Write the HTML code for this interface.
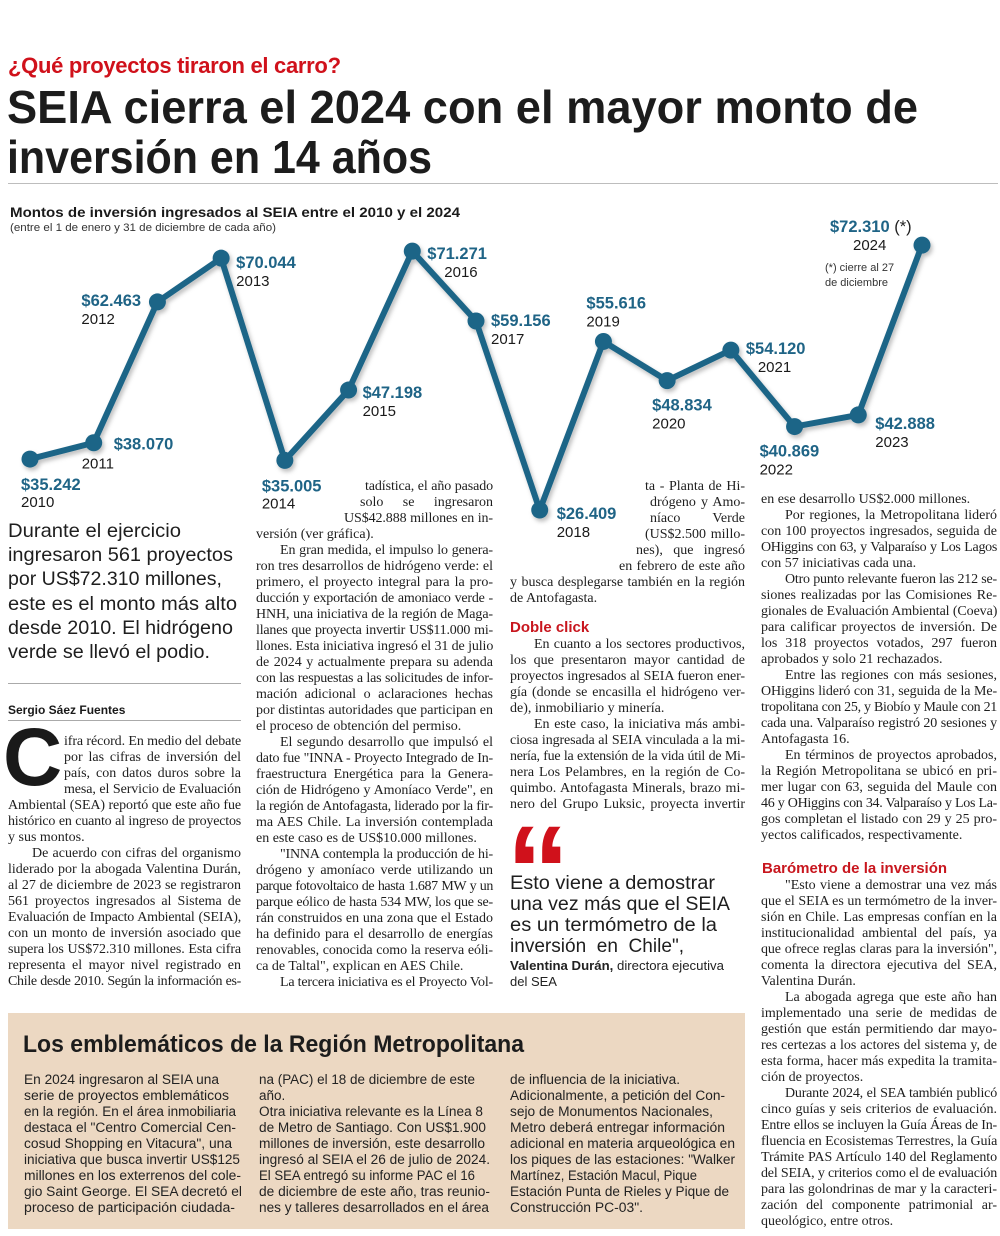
<!DOCTYPE html>
<html lang="es">
<head>
<meta charset="utf-8">
<style>
html,body{margin:0;padding:0;background:#fff;}
body{width:1000px;height:1236px;position:relative;overflow:hidden;font-family:"Liberation Sans",Arial,sans-serif;color:#1a1a1a;}
.abs{position:absolute;}
.col{position:absolute;font-family:"Liberation Serif","Times New Roman",serif;font-size:14px;line-height:16px;color:#1e1e1e;}
.ln{white-space:nowrap;text-align:justify;text-align-last:justify;height:16px;overflow:visible;}
.ls{white-space:nowrap;text-align:left;height:16px;}
.in{text-indent:24px;}
.sub{font-family:"Liberation Sans",Arial,sans-serif;font-weight:bold;color:#c8161e;font-size:15px;}
.box{position:absolute;left:8px;top:1013px;width:737px;height:216px;background:#ecd8c2;}
.bcol{position:absolute;font-family:"Liberation Sans",Arial,sans-serif;font-size:13.5px;line-height:16px;color:#222;}
.bcol div{white-space:nowrap;height:16px;}
.fit{display:inline-block;white-space:nowrap;transform-origin:0 50%;}
</style>
</head>
<body>

<div class="abs" style="left:8px;top:52px;font-size:22px;font-weight:bold;color:#d0111b;line-height:28px;letter-spacing:-0.3px;">¿Qué proyectos tiraron el carro?</div>
<div class="abs" style="left:7px;top:82px;font-size:46px;font-weight:bold;line-height:50px;color:#1c1c1c;">
  <div><span class="fit" data-w="911">SEIA cierra el 2024 con el mayor monto de</span></div>
  <div><span class="fit" data-w="425">inversión en 14 años</span></div>
</div>
<div class="abs" style="left:8px;top:183px;width:990px;height:1px;background:#bdbdbd;"></div>

<div class="abs" style="left:10px;top:203px;font-size:14px;font-weight:bold;line-height:18px;"><span class="fit" data-w="450">Montos de inversión ingresados al SEIA entre el 2010 y el 2024</span></div>
<div class="abs" style="left:10px;top:221px;font-size:11px;line-height:14px;color:#333;"><span class="fit" data-w="266">(entre el 1 de enero y 31 de diciembre de cada año)</span></div>

<svg id="chart" class="abs" style="left:0;top:0;" width="1000" height="560" viewBox="0 0 1000 560">
  <defs>
    <filter id="sh" x="-10%" y="-10%" width="120%" height="120%">
      <feDropShadow dx="2" dy="3" stdDeviation="2" flood-color="#000" flood-opacity="0.25"/>
    </filter>
  </defs>
  <g id="lineLayer" filter="url(#sh)"></g>
  <g id="labelLayer"></g>
  <text x="825" y="271" font-size="11" fill="#333" font-family="Liberation Sans, sans-serif">(*) cierre al 27</text>
  <text x="825" y="286" font-size="11" fill="#333" font-family="Liberation Sans, sans-serif">de diciembre</text>
</svg>

<!-- Column 1 -->
<div class="abs" style="left:8px;top:519px;font-size:19.5px;line-height:24.2px;color:#1e1e1e;">
  <div><span class="fit" data-w="173">Durante el ejercicio</span></div>
  <div><span class="fit" data-w="225">ingresaron 561 proyectos</span></div>
  <div><span class="fit" data-w="214">por US$72.310 millones,</span></div>
  <div><span class="fit" data-w="229">este es el monto más alto</span></div>
  <div><span class="fit" data-w="225">desde 2010. El hidrógeno</span></div>
  <div><span class="fit" data-w="202">verde se llevó el podio.</span></div>
</div>
<div class="abs" style="left:8px;top:683px;width:233px;height:1px;background:#aaa;"></div>
<div class="abs" style="left:8px;top:702px;font-size:12px;font-weight:bold;line-height:16px;">Sergio Sáez Fuentes</div>
<div class="abs" style="left:8px;top:720px;width:233px;height:1px;background:#aaa;"></div>
<div class="abs" style="left:3px;top:717px;font-size:82px;font-weight:bold;line-height:82px;color:#1a1a1a;">C</div>

<div class="col" style="left:8px;top:734px;width:233px;">
  <div class="ln" style="margin-left:56px">ifra récord. En medio del debate</div>
  <div class="ln" style="margin-left:56px">por las cifras de inversión del</div>
  <div class="ln" style="margin-left:56px">país, con datos duros sobre la</div>
  <div class="ln" style="margin-left:56px">mesa, el Servicio de Evaluación</div>
  <div class="ln">Ambiental (SEA) reportó que este año fue</div>
  <div class="ln">histórico en cuanto al ingreso de proyectos</div>
  <div class="ls">y sus montos.</div>
  <div class="ln in">De acuerdo con cifras del organismo</div>
  <div class="ln">liderado por la abogada Valentina Durán,</div>
  <div class="ln">al 27 de diciembre de 2023 se registraron</div>
  <div class="ln">561 proyectos ingresados al Sistema de</div>
  <div class="ln">Evaluación de Impacto Ambiental (SEIA),</div>
  <div class="ln">con un monto de inversión asociado que</div>
  <div class="ln">supera los US$72.310 millones. Esta cifra</div>
  <div class="ln">representa el mayor nivel registrado en</div>
  <div class="ln">Chile desde 2010. Según la información es-</div>
</div>

<!-- Column 2 -->
<div class="col" style="left:256px;top:479px;width:237px;">
  <div class="ln" style="margin-left:109px">tadística, el año pasado</div>
  <div class="ln" style="margin-left:104px">solo se ingresaron</div>
  <div class="ln" style="margin-left:88px">US$42.888 millones en in-</div>
  <div class="ls">versión (ver gráfica).</div>
  <div class="ln in">En gran medida, el impulso lo genera-</div>
  <div class="ln">ron tres desarrollos de hidrógeno verde: el</div>
  <div class="ln">primero, el proyecto integral para la pro-</div>
  <div class="ln">ducción y exportación de amoniaco verde -</div>
  <div class="ln">HNH, una iniciativa de la región de Maga-</div>
  <div class="ln">llanes que proyecta invertir US$11.000 mi-</div>
  <div class="ln">llones. Esta iniciativa ingresó el 31 de julio</div>
  <div class="ln">de 2024 y actualmente prepara su adenda</div>
  <div class="ln">con las respuestas a las solicitudes de infor-</div>
  <div class="ln">mación adicional o aclaraciones hechas</div>
  <div class="ln">por distintas autoridades que participan en</div>
  <div class="ls">el proceso de obtención del permiso.</div>
  <div class="ln in">El segundo desarrollo que impulsó el</div>
  <div class="ln">dato fue "INNA - Proyecto Integrado de In-</div>
  <div class="ln">fraestructura Energética para la Genera-</div>
  <div class="ln">ción de Hidrógeno y Amoníaco Verde", en</div>
  <div class="ln">la región de Antofagasta, liderado por la fir-</div>
  <div class="ln">ma AES Chile. La inversión contemplada</div>
  <div class="ls">en este caso es de US$10.000 millones.</div>
  <div class="ln in">"INNA contempla la producción de hi-</div>
  <div class="ln">drógeno y amoníaco verde utilizando un</div>
  <div class="ln">parque fotovoltaico de hasta 1.687 MW y un</div>
  <div class="ln">parque eólico de hasta 534 MW, los que se-</div>
  <div class="ln">rán construidos en una zona que el Estado</div>
  <div class="ln">ha definido para el desarrollo de energías</div>
  <div class="ln">renovables, conocida como la reserva eóli-</div>
  <div class="ls">ca de Taltal", explican en AES Chile.</div>
  <div class="ln in">La tercera iniciativa es el Proyecto Vol-</div>
</div>

<!-- Column 3 -->
<div class="col" style="left:510px;top:479px;width:235px;">
  <div class="ln" style="margin-left:135px">ta - Planta de Hi-</div>
  <div class="ln" style="margin-left:140px">drógeno y Amo-</div>
  <div class="ln" style="margin-left:140px">níaco Verde</div>
  <div class="ln" style="margin-left:135px">(US$2.500 millo-</div>
  <div class="ln" style="margin-left:126px">nes), que ingresó</div>
  <div class="ln" style="margin-left:109px">en febrero de este año</div>
  <div class="ln">y busca desplegarse también en la región</div>
  <div class="ls">de Antofagasta.</div>
</div>
<div class="abs sub" style="left:510px;top:619px;line-height:18px;">Doble click</div>
<div class="col" style="left:510px;top:637px;width:235px;">
  <div class="ln in">En cuanto a los sectores productivos,</div>
  <div class="ln">los que presentaron mayor cantidad de</div>
  <div class="ln">proyectos ingresados al SEIA fueron ener-</div>
  <div class="ln">gía (donde se encasilla el hidrógeno ver-</div>
  <div class="ls">de), inmobiliario y minería.</div>
  <div class="ln in">En este caso, la iniciativa más ambi-</div>
  <div class="ln">ciosa ingresada al SEIA vinculada a la mi-</div>
  <div class="ln">nería, fue la extensión de la vida útil de Mi-</div>
  <div class="ln">nera Los Pelambres, en la región de Co-</div>
  <div class="ln">quimbo. Antofagasta Minerals, brazo mi-</div>
  <div class="ln">nero del Grupo Luksic, proyecta invertir</div>
</div>
<div class="abs" style="left:506px;top:808px;font-size:128px;font-weight:bold;line-height:128px;color:#d0111b;">“</div>
<div class="abs" style="left:510px;top:873px;font-size:19px;line-height:21px;color:#1e1e1e;">
  <div><span class="fit" data-w="205">Esto viene a demostrar</span></div>
  <div><span class="fit" data-w="220">una vez más que el SEIA</span></div>
  <div><span class="fit" data-w="207">es un termómetro de la</span></div>
  <div><span class="fit" data-w="174">inversión&nbsp; en&nbsp; Chile",</span></div>
</div>
<div class="abs" style="left:510px;top:958px;font-size:13px;line-height:16px;color:#222;">
  <div><span class="fit" data-w="214"><b>Valentina Durán,</b> directora ejecutiva</span></div>
  <div>del SEA</div>
</div>

<!-- Column 4 -->
<div class="col" style="left:761px;top:492px;width:236px;">
  <div class="ls">en ese desarrollo US$2.000 millones.</div>
  <div class="ln in">Por regiones, la Metropolitana lideró</div>
  <div class="ln">con 100 proyectos ingresados, seguida de</div>
  <div class="ln">OHiggins con 63, y Valparaíso y Los Lagos</div>
  <div class="ls">con 57 iniciativas cada una.</div>
  <div class="ln in">Otro punto relevante fueron las 212 se-</div>
  <div class="ln">siones realizadas por las Comisiones Re-</div>
  <div class="ln">gionales de Evaluación Ambiental (Coeva)</div>
  <div class="ln">para calificar proyectos de inversión. De</div>
  <div class="ln">los 318 proyectos votados, 297 fueron</div>
  <div class="ls">aprobados y solo 21 rechazados.</div>
  <div class="ln in">Entre las regiones con más sesiones,</div>
  <div class="ln">OHiggins lideró con 31, seguida de la Me-</div>
  <div class="ln">tropolitana con 25, y Biobío y Maule con 21</div>
  <div class="ln">cada una. Valparaíso registró 20 sesiones y</div>
  <div class="ls">Antofagasta 16.</div>
  <div class="ln in">En términos de proyectos aprobados,</div>
  <div class="ln">la Región Metropolitana se ubicó en pri-</div>
  <div class="ln">mer lugar con 63, seguida del Maule con</div>
  <div class="ln">46 y OHiggins con 34. Valparaíso y Los La-</div>
  <div class="ln">gos completan el listado con 29 y 25 pro-</div>
  <div class="ls">yectos calificados, respectivamente.</div>
</div>
<div class="abs sub" style="left:762px;top:860px;line-height:18px;">Barómetro de la inversión</div>
<div class="col" style="left:761px;top:878px;width:236px;">
  <div class="ln in">"Esto viene a demostrar una vez más</div>
  <div class="ln">que el SEIA es un termómetro de la inver-</div>
  <div class="ln">sión en Chile. Las empresas confían en la</div>
  <div class="ln">institucionalidad ambiental del país, ya</div>
  <div class="ln">que ofrece reglas claras para la inversión",</div>
  <div class="ln">comenta la directora ejecutiva del SEA,</div>
  <div class="ls">Valentina Durán.</div>
  <div class="ln in">La abogada agrega que este año han</div>
  <div class="ln">implementado una serie de medidas de</div>
  <div class="ln">gestión que están permitiendo dar mayo-</div>
  <div class="ln">res certezas a los actores del sistema y, de</div>
  <div class="ln">esta forma, hacer más expedita la tramita-</div>
  <div class="ls">ción de proyectos.</div>
  <div class="ln in">Durante 2024, el SEA también publicó</div>
  <div class="ln">cinco guías y seis criterios de evaluación.</div>
  <div class="ln">Entre ellos se incluyen la Guía Áreas de In-</div>
  <div class="ln">fluencia en Ecosistemas Terrestres, la Guía</div>
  <div class="ln">Trámite PAS Artículo 140 del Reglamento</div>
  <div class="ln">del SEIA, y criterios como el de evaluación</div>
  <div class="ln">para las golondrinas de mar y la caracteri-</div>
  <div class="ln">zación del componente patrimonial ar-</div>
  <div class="ls">queológico, entre otros.</div>
</div>

<!-- Box -->
<div class="box"></div>
<div class="abs" style="left:23px;top:1030px;font-size:24px;font-weight:bold;line-height:30px;color:#1c1c1c;"><span class="fit" data-w="501">Los emblemáticos de la Región Metropolitana</span></div>
<div class="bcol" style="left:24px;top:1072px;">
  <div><span class="fit" data-w="195">En 2024 ingresaron al SEIA una</span></div>
  <div><span class="fit" data-w="205">serie de proyectos emblemáticos</span></div>
  <div><span class="fit" data-w="212">en la región. En el área inmobiliaria</span></div>
  <div><span class="fit" data-w="212">destaca el "Centro Comercial Cen-</span></div>
  <div><span class="fit" data-w="208">cosud Shopping en Vitacura", una</span></div>
  <div><span class="fit" data-w="216">iniciativa que busca invertir US$125</span></div>
  <div><span class="fit" data-w="217">millones en los exterrenos del cole-</span></div>
  <div><span class="fit" data-w="218">gio Saint George. El SEA decretó el</span></div>
  <div><span class="fit" data-w="211">proceso de participación ciudada-</span></div>
</div>
<div class="bcol" style="left:259px;top:1072px;">
  <div><span class="fit" data-w="216">na (PAC) el 18 de diciembre de este</span></div>
  <div>año.</div>
  <div><span class="fit" data-w="224">Otra iniciativa relevante es la Línea 8</span></div>
  <div><span class="fit" data-w="227">de Metro de Santiago. Con US$1.900</span></div>
  <div><span class="fit" data-w="226">millones de inversión, este desarrollo</span></div>
  <div><span class="fit" data-w="231">ingresó al SEIA el 26 de julio de 2024.</span></div>
  <div><span class="fit" data-w="216">El SEA entregó su informe PAC el 16</span></div>
  <div><span class="fit" data-w="231">de diciembre de este año, tras reunio-</span></div>
  <div><span class="fit" data-w="230">nes y talleres desarrollados en el área</span></div>
</div>
<div class="bcol" style="left:510px;top:1072px;">
  <div><span class="fit" data-w="170">de influencia de la iniciativa.</span></div>
  <div><span class="fit" data-w="215">Adicionalmente, a petición del Con-</span></div>
  <div><span class="fit" data-w="203">sejo de Monumentos Nacionales,</span></div>
  <div><span class="fit" data-w="215">Metro deberá entregar información</span></div>
  <div><span class="fit" data-w="225">adicional en materia arqueológica en</span></div>
  <div><span class="fit" data-w="225">los piques de las estaciones: "Walker</span></div>
  <div><span class="fit" data-w="187">Martínez, Estación Macul, Pique</span></div>
  <div><span class="fit" data-w="219">Estación Punta de Rieles y Pique de</span></div>
  <div><span class="fit" data-w="133">Construcción PC-03".</span></div>
</div>

<script>
// ---- chart data ----
const years = ["2010","2011","2012","2013","2014","2015","2016","2017","2018","2019","2020","2021","2022","2023","2024"];
const values = [35242,38070,62463,70044,35005,47198,71271,59156,26409,55616,48834,54120,40869,42888,72310];
const valueLabels = ["$35.242","$38.070","$62.463","$70.044","$35.005","$47.198","$71.271","$59.156","$26.409","$55.616","$48.834","$54.120","$40.869","$42.888","$72.310"];
// label placement relative to each point (style only): [dxValue, dyValue, dxYear, dyYear]
const labelOffsets = [[-9,31,-9,48],[20,7,-12,26],[-76,4,-76,22],[15,10,15,28],[-23,31,-23,48],[14,8,14,26],[15,8,32,26],[15,5,15,23],[17,9,17,27],[-17,-33,-17,-15],[-15,30,-15,48],[15,4,27,22],[-35,30,-35,48],[17,14,17,32],[-92,-13,-69,5]];

const svgNS = "http://www.w3.org/2000/svg";
const xScale = i => 30 + i * (892 / (years.length - 1));
const yScale = v => 662.5 - v * (461.8 / 80000);

const lineLayer = document.getElementById('lineLayer');
const labelLayer = document.getElementById('labelLayer');
const pts = values.map((v, i) => [xScale(i), yScale(v)]);
const path = document.createElementNS(svgNS, 'polyline');
path.setAttribute('points', pts.map(p => p.join(',')).join(' '));
path.setAttribute('fill', 'none');
path.setAttribute('stroke', '#1d6587');
path.setAttribute('stroke-width', '6');
path.setAttribute('stroke-linejoin', 'round');


lineLayer.appendChild(path);

pts.forEach((p, i) => {
  const c = document.createElementNS(svgNS, 'circle');
  c.setAttribute('cx', p[0]);
  c.setAttribute('cy', p[1]);
  c.setAttribute('r', '8.5');
  c.setAttribute('fill', '#1d6587');
  
  
  lineLayer.appendChild(c);

  const o = labelOffsets[i];
  const tv = document.createElementNS(svgNS, 'text');
  tv.setAttribute('x', p[0] + o[0]);
  tv.setAttribute('y', p[1] + o[1]);
  tv.setAttribute('font-size', '16.5');
  tv.setAttribute('font-weight', 'bold');
  tv.setAttribute('fill', '#1f6486');
  tv.setAttribute('font-family', 'Liberation Sans, sans-serif');
  tv.textContent = valueLabels[i];
  
  
  labelLayer.appendChild(tv);
  if (i === years.length - 1) {
    const ts = document.createElementNS(svgNS, 'tspan');
    ts.setAttribute('fill', '#222');
    ts.setAttribute('font-weight', 'normal');
    ts.textContent = ' (*)';
    tv.appendChild(ts);
  }

  const ty = document.createElementNS(svgNS, 'text');
  ty.setAttribute('x', p[0] + o[2]);
  ty.setAttribute('y', p[1] + o[3]);
  ty.setAttribute('font-size', '15');
  ty.setAttribute('fill', '#1a1a1a');
  ty.setAttribute('font-family', 'Liberation Sans, sans-serif');
  ty.textContent = years[i];
  
  
  labelLayer.appendChild(ty);
});

// fit width helpers
document.querySelectorAll('.fit').forEach(s => {
  const w = parseFloat(s.getAttribute('data-w'));
  const cur = s.getBoundingClientRect().width;
  if (cur > 0) s.style.transform = 'scaleX(' + (w / cur) + ')';
});
document.querySelectorAll('.ln, .ls').forEach(el => {
  let ls = 0;
  while (el.scrollWidth > el.clientWidth + 0.5 && ls > -1.2) {
    ls -= 0.1;
    el.style.letterSpacing = ls + 'px';
  }
});
</script>
</body>
</html>
